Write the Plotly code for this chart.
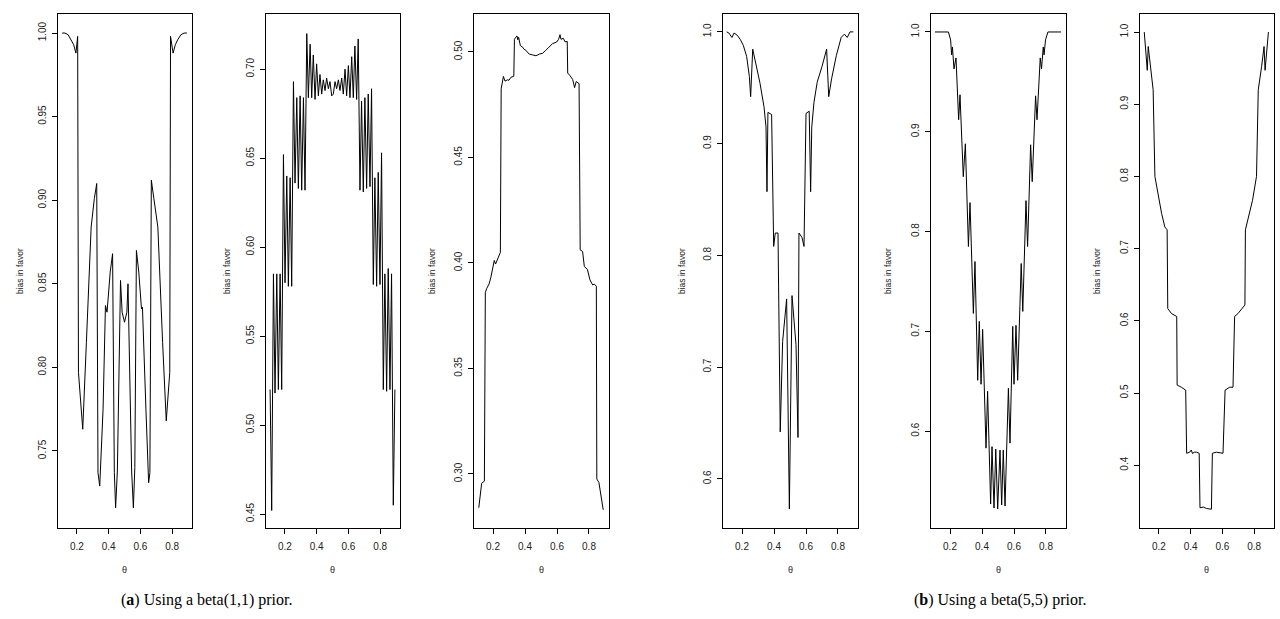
import plotly.graph_objects as go

W, H = 1280, 619

# ---------------- data ----------------
# (a) beta(1,1) prior, panel 1
a1_theta = [0.107,0.125,0.145,0.165,0.180,0.194,0.205,0.210,0.237,0.260,
            0.290,0.310,0.325,0.333,0.344,0.365,0.380,0.390,0.410,0.425,
            0.436,0.444,0.455,0.475,0.485,0.500,0.515,0.522,0.545,0.556,
            0.565,0.575,0.590,0.607,0.613,0.635,0.652,0.660,0.669,0.685,
            0.710,0.740,0.763,0.785,0.790,0.806,0.820,0.835,0.855,0.875,0.893]
a1_bias = [1.000,1.000,0.999,0.996,0.993,0.988,0.998,0.797,0.763,0.815,
           0.884,0.901,0.910,0.737,0.729,0.775,0.837,0.833,0.857,0.868,
           0.737,0.716,0.738,0.852,0.833,0.827,0.833,0.850,0.738,0.716,
           0.740,0.870,0.857,0.835,0.836,0.775,0.731,0.737,0.912,0.901,
           0.884,0.815,0.768,0.797,0.998,0.988,0.993,0.996,0.999,1.000,1.000]

# (a) beta(1,1) prior, panel 2
a2_theta = [0.107,0.117,0.128,0.138,0.149,0.159,0.170,0.180,0.191,0.201,
            0.212,0.222,0.233,0.243,0.254,0.264,0.275,0.285,0.296,0.306,
            0.317,0.327,0.338,0.348,0.359,0.369,0.379,0.390,0.400,0.411,
            0.421,0.432,0.442,0.453,0.463,0.474,0.484,0.495,0.505,0.516,
            0.526,0.537,0.547,0.558,0.568,0.579,0.589,0.600,0.610,0.621,
            0.631,0.641,0.652,0.662,0.673,0.683,0.694,0.704,0.715,0.725,
            0.736,0.746,0.757,0.767,0.778,0.788,0.799,0.809,0.820,0.830,
            0.841,0.851,0.862,0.872,0.883,0.893]
a2_bias = [0.520,0.452,0.585,0.518,0.585,0.520,0.585,0.520,0.652,0.580,
           0.640,0.578,0.639,0.578,0.693,0.636,0.684,0.633,0.685,0.632,
           0.684,0.632,0.720,0.684,0.714,0.684,0.708,0.683,0.703,0.685,
           0.697,0.686,0.694,0.688,0.695,0.689,0.693,0.685,0.686,0.693,
           0.689,0.694,0.688,0.695,0.686,0.700,0.685,0.702,0.684,0.707,
           0.684,0.713,0.683,0.717,0.632,0.682,0.631,0.684,0.633,0.686,
           0.634,0.689,0.579,0.639,0.578,0.642,0.579,0.653,0.520,0.585,
           0.519,0.588,0.520,0.585,0.455,0.520]

# (a) beta(1,1) prior, panel 3
a3_theta = [0.111,0.129,0.146,0.152,0.161,0.175,0.186,0.200,0.208,0.216,
            0.227,0.240,0.246,0.251,0.258,0.265,0.275,0.290,0.300,0.312,
            0.330,0.334,0.343,0.350,0.355,0.360,0.371,0.385,0.395,0.406,
            0.418,0.427,0.448,0.469,0.490,0.510,0.530,0.552,0.573,0.598,
            0.610,0.619,0.625,0.640,0.650,0.664,0.667,0.681,0.698,0.710,
            0.720,0.738,0.745,0.760,0.771,0.790,0.806,0.823,0.833,0.846,
            0.849,0.862,0.889]
a3_bias = [0.2840,0.2956,0.2966,0.3860,0.3880,0.3900,0.3930,0.3976,0.4012,0.3995,
           0.4017,0.4047,0.4050,0.4825,0.4867,0.4884,0.4862,0.4868,0.4866,0.4880,
           0.4885,0.5060,0.5070,0.5076,0.5058,0.5070,0.5030,0.5023,0.5012,0.5008,
           0.4996,0.4990,0.4986,0.4982,0.4990,0.4994,0.5008,0.5023,0.5040,0.5047,
           0.5060,0.5082,0.5060,0.5065,0.5048,0.5050,0.4900,0.4888,0.4870,0.4831,
           0.4860,0.4850,0.4062,0.4055,0.3983,0.3970,0.3920,0.3896,0.3900,0.3890,
           0.2976,0.2960,0.2830]

# (b) beta(5,5) prior, panel 1
b1_theta = [0.104,0.118,0.137,0.150,0.170,0.190,0.208,0.229,0.246,0.254,
            0.267,0.292,0.3125,0.3375,0.350,0.356,0.362,0.385,0.398,0.408,
            0.425,0.439,0.454,0.479,0.496,0.5125,0.5375,0.550,0.556,0.575,
            0.5875,0.600,0.620,0.629,0.636,0.650,0.670,0.700,0.729,0.742,
            0.760,0.790,0.820,0.840,0.858,0.875,0.896]
b1_bias = [1.000,0.999,0.995,0.999,0.997,0.993,0.988,0.978,0.960,0.942,
           0.9845,0.969,0.954,0.933,0.915,0.857,0.928,0.926,0.808,0.820,
           0.820,0.642,0.723,0.761,0.573,0.764,0.720,0.637,0.820,0.816,
           0.808,0.927,0.929,0.857,0.915,0.937,0.955,0.969,0.9845,0.942,
           0.958,0.979,0.995,0.998,0.995,1.000,1.000]

# (b) beta(5,5) prior, panel 2
b2_theta = [0.106,0.190,0.204,0.210,0.215,0.225,0.2375,0.254,0.2625,0.283,
            0.296,0.315,0.325,0.346,0.356,0.373,0.383,0.394,0.404,0.425,
            0.435,0.454,0.4625,0.475,0.486,0.498,0.5125,0.523,0.533,0.544,
            0.565,0.575,0.592,0.600,0.6125,0.623,0.645,0.655,0.675,0.685,
            0.704,0.714,0.735,0.744,0.764,0.772,0.783,0.788,0.797,0.812,0.894]
b2_bias = [1.000,1.000,0.992,0.977,0.985,0.963,0.974,0.912,0.937,0.855,
           0.888,0.785,0.829,0.718,0.770,0.651,0.710,0.647,0.702,0.583,
           0.640,0.527,0.5845,0.523,0.582,0.522,0.581,0.526,0.581,0.525,
           0.643,0.588,0.705,0.647,0.706,0.651,0.768,0.720,0.831,0.785,
           0.887,0.850,0.936,0.912,0.974,0.963,0.985,0.977,0.992,1.000,1.000]

# (b) beta(5,5) prior, panel 3
b3_theta = [0.108,0.127,0.133,0.164,0.175,0.192,0.217,0.2375,0.252,0.256,
            0.280,0.3125,0.315,0.342,0.369,0.375,0.394,0.404,0.412,0.422,
            0.4375,0.454,0.459,0.480,0.500,0.531,0.537,0.5625,0.604,0.617,
            0.646,0.667,0.677,0.698,0.726,0.742,0.745,0.763,0.790,0.815,
            0.826,0.847,0.8625,0.869,0.890]
b3_bias = [1.000,0.947,0.980,0.920,0.800,0.777,0.749,0.730,0.726,0.617,
           0.610,0.606,0.511,0.508,0.504,0.4165,0.418,0.421,0.416,0.418,
           0.418,0.4165,0.341,0.342,0.340,0.339,0.4165,0.418,0.4165,0.504,
           0.508,0.508,0.606,0.610,0.618,0.622,0.726,0.744,0.767,0.800,
           0.920,0.952,0.980,0.947,1.000]

x_ticks = [0.2, 0.4, 0.6, 0.8]
x_ticklabels = ["0.2", "0.4", "0.6", "0.8"]

yt_a1 = [0.75, 0.80, 0.85, 0.90, 0.95, 1.00]
yt_a1_lab = ["0.75", "0.80", "0.85", "0.90", "0.95", "1.00"]
yt_a2 = [0.45, 0.50, 0.55, 0.60, 0.65, 0.70]
yt_a2_lab = ["0.45", "0.50", "0.55", "0.60", "0.65", "0.70"]
yt_a3 = [0.30, 0.35, 0.40, 0.45, 0.50]
yt_a3_lab = ["0.30", "0.35", "0.40", "0.45", "0.50"]
yt_b1 = [0.6, 0.7, 0.8, 0.9, 1.0]
yt_b1_lab = ["0.6", "0.7", "0.8", "0.9", "1.0"]
yt_b2 = [0.6, 0.7, 0.8, 0.9, 1.0]
yt_b2_lab = ["0.6", "0.7", "0.8", "0.9", "1.0"]
yt_b3 = [0.4, 0.5, 0.6, 0.7, 0.8, 0.9, 1.0]
yt_b3_lab = ["0.4", "0.5", "0.6", "0.7", "0.8", "0.9", "1.0"]

y_title = "bias in favor"
x_title = "θ"
captions = ["(<b>a</b>) Using a beta(1,1) prior.", "(<b>b</b>) Using a beta(5,5) prior."]

# ---------------- layout geometry ----------------
panels = [
    dict(x=a1_theta, y=a1_bias, box=(57.5, 191.5), yr=(0.7039, 1.0114), yt=yt_a1, yl=yt_a1_lab, tx=20),
    dict(x=a2_theta, y=a2_bias, box=(265.5, 399.5), yr=(0.4422, 0.7310), yt=yt_a2, yl=yt_a2_lab, tx=227),
    dict(x=a3_theta, y=a3_bias, box=(473.5, 608.5), yr=(0.2744, 0.5180), yt=yt_a3, yl=yt_a3_lab, tx=432),
    dict(x=b1_theta, y=b1_bias, box=(722.5, 857.5), yr=(0.5560, 1.0160), yt=yt_b1, yl=yt_b1_lab, tx=682),
    dict(x=b2_theta, y=b2_bias, box=(930.5, 1065.5), yr=(0.5030, 1.0180), yt=yt_b2, yl=yt_b2_lab, tx=888),
    dict(x=b3_theta, y=b3_bias, box=(1139.5, 1273.5), yr=(0.3130, 1.0250), yt=yt_b3, yl=yt_b3_lab, tx=1097),
]
top_px, bot_px = 14, 528
ydom = [1 - bot_px / H, 1 - top_px / H]

tick_font = dict(family="Liberation Sans, Arial, sans-serif", size=10, color="#222")
lab_font = dict(family="Liberation Sans, Arial, sans-serif", size=8.5, color="#222")

fig = go.Figure()
annotations = []
for i, p in enumerate(panels):
    k = "" if i == 0 else str(i + 1)
    fig.add_trace(go.Scatter(
        x=p["x"], y=p["y"], mode="lines",
        line=dict(color="black", width=1),
        xaxis="x" + k, yaxis="y" + k, showlegend=False, hoverinfo="skip"))
    fig.update_layout(**{
        "xaxis" + k: dict(
            domain=[p["box"][0] / W, p["box"][1] / W], range=[0.078, 0.922],
            anchor="y" + k, tickmode="array", tickvals=x_ticks, ticktext=x_ticklabels,
            showline=True, mirror=True, linecolor="black", linewidth=1,
            ticks="outside", ticklen=5, tickcolor="black", tickwidth=1,
            showgrid=False, zeroline=False, tickfont=tick_font, ticklabelstandoff=4),
        "yaxis" + k: dict(
            domain=ydom, range=list(p["yr"]), anchor="x" + k,
            tickmode="array", tickvals=p["yt"], ticktext=p["yl"], tickangle=-90,
            showline=True, mirror=True, linecolor="black", linewidth=1,
            ticks="outside", ticklen=5, tickcolor="black", tickwidth=1,
            showgrid=False, zeroline=False, tickfont=tick_font, ticklabelstandoff=2),
    })
    cx = (p["box"][0] + p["box"][1]) / 2
    annotations.append(dict(x=cx / W, y=1 - 570 / H, xref="paper", yref="paper",
                            text=x_title, showarrow=False, font=dict(lab_font, size=9),
                            xanchor="center", yanchor="middle"))
    annotations.append(dict(x=p["tx"] / W, y=1 - 271 / H, xref="paper", yref="paper",
                            text=y_title, showarrow=False, font=lab_font, textangle=-90,
                            xanchor="center", yanchor="middle"))

cap_font = dict(family="Liberation Serif, Times New Roman, serif", size=16, color="black")
annotations.append(dict(x=207 / W, y=1 - 600 / H, xref="paper", yref="paper", text=captions[0],
                        showarrow=False, font=cap_font, xanchor="center", yanchor="middle"))
annotations.append(dict(x=1000 / W, y=1 - 600 / H, xref="paper", yref="paper", text=captions[1],
                        showarrow=False, font=cap_font, xanchor="center", yanchor="middle"))

fig.update_layout(
    width=W, height=H, margin=dict(l=0, r=0, t=0, b=0),
    paper_bgcolor="white", plot_bgcolor="white",
    annotations=annotations, showlegend=False)

fig.write_html("out.html")
